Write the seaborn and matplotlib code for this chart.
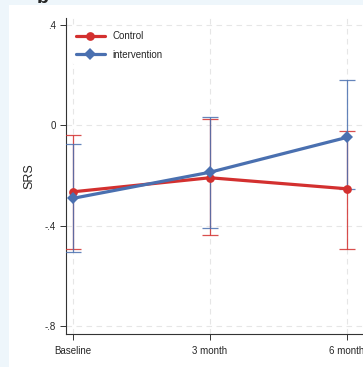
import numpy as np
import pandas as pd
import matplotlib
matplotlib.use("Agg")
import matplotlib.pyplot as plt
import seaborn as sns
from matplotlib.patches import Rectangle

# data
timepoints = ["Baseline", "3 month", "6 month"]
control_mean = [-0.265, -0.209, -0.253]
control_lo = [-0.495, -0.439, -0.492]
control_hi = [-0.039, 0.024, -0.023]
interv_mean = [-0.291, -0.187, -0.048]
interv_lo = [-0.507, -0.409, -0.253]
interv_hi = [-0.073, 0.035, 0.179]
yticks = [0.4, 0, -0.4, -0.8]
ytick_labels = [".4", "0", "-.4", "-.8"]

red = "#d3302f"
blue = "#4a70b0"

sns.set_style("white")
plt.rcParams["font.family"] = ["Liberation Sans", "DejaVu Sans"]

df = pd.DataFrame({
    "x": list(range(len(timepoints))) * 2,
    "SRS": control_mean + interv_mean,
    "group": ["Control"] * 3 + ["intervention"] * 3,
})

fig = plt.figure(figsize=(3.63, 3.67), dpi=100)
fig.patch.set_facecolor("#eef6fb")
fig.patches.append(Rectangle((9 / 363, 0), 1, 362 / 367, transform=fig.transFigure,
                             facecolor="white", edgecolor="none", zorder=-10))
# panel letter, cut off at the top edge as in the source
fig.text(0.118, 1.003, "b", fontsize=14, fontweight="bold", ha="center", va="center")

ax = fig.add_axes([66 / 363, 33 / 367, 1 - 66 / 363, 316 / 367])
ax.set_facecolor("white")

pos = np.arange(len(timepoints))
for mean, lo, hi, col, z in [(control_mean, control_lo, control_hi, red, 3),
                             (interv_mean, interv_lo, interv_hi, blue, 4)]:
    mean = np.array(mean)
    err = [mean - np.array(lo), np.array(hi) - mean]
    ax.errorbar(pos, mean, yerr=err, fmt="none", ecolor=col, elinewidth=0.9,
                capsize=5.5, capthick=0.9, alpha=0.85, zorder=z)

sns.lineplot(data=df, x="x", y="SRS", hue="group", style="group",
             palette={"Control": red, "intervention": blue},
             markers={"Control": "o", "intervention": "D"}, dashes=False,
             linewidth=2.3, markersize=6.3, markeredgewidth=0, ax=ax, zorder=5)

ax.set_xlim(-7 / 137, 290 / 137)
ax.set_ylim(-0.832, 0.428)
ax.set_xticks(pos)
ax.set_xticklabels(timepoints, fontsize=7)
ax.set_yticks(yticks)
ax.set_yticklabels(ytick_labels, fontsize=7)
ax.set_xlabel("")
ax.set_ylabel("SRS", fontsize=9, labelpad=7)

for v in yticks:
    ax.axhline(v, color="#e6e6e6", lw=0.8, ls=(0, (5, 4)), zorder=1)
for v in pos:
    ax.axvline(v, color="#e6e6e6", lw=0.8, ls=(0, (5, 4)), zorder=1)

ax.tick_params(axis="both", direction="out", length=4, width=0.7, color="#333333",
               left=True, bottom=True)
ax.tick_params(axis="x", pad=5)
ax.tick_params(axis="y", pad=3)
for s in ["top", "right"]:
    ax.spines[s].set_visible(False)
for s in ["left", "bottom"]:
    ax.spines[s].set_color("#333333")
    ax.spines[s].set_linewidth(0.8)

leg = ax.legend(loc="upper left", bbox_to_anchor=(0.01, 0.98), frameon=True,
                fontsize=7, handlelength=3.0, handletextpad=0.8, labelspacing=0.9,
                borderaxespad=0.3, edgecolor="white", facecolor="white", framealpha=1)
leg.get_frame().set_linewidth(0)
leg.set_zorder(10)

fig.savefig("out.png", dpi=100, facecolor=fig.get_facecolor())
